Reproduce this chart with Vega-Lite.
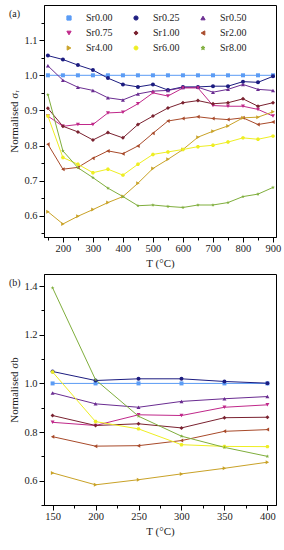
{
  "$schema": "https://vega.github.io/schema/vega-lite/v6.json",
  "padding": {"left": 8, "top": 4, "right": 2, "bottom": 4},
  "config": {
    "view": {"stroke": "black", "strokeWidth": 1},
    "font": "Liberation Serif",
    "axis": {"labelFont": "Liberation Serif", "labelFontSize": 10.5, "labelColor": "#222", "titleFont": "Liberation Serif", "titleFontSize": 11, "titleFontWeight": "normal", "titleColor": "#222", "domainColor": "black", "tickColor": "black", "grid": false},
    "legend": {"labelFont": "Liberation Serif", "labelFontSize": 10, "labelColor": "#222"},
    "title": {"font": "Liberation Serif", "fontSize": 10, "fontWeight": "normal", "color": "#222"}
  },
  "datasets": {
    "a": [
      {"s":"Sr0.00","T":150,"v":1.0},{"s":"Sr0.00","T":200,"v":1.0},{"s":"Sr0.00","T":250,"v":1.0},{"s":"Sr0.00","T":300,"v":1.0},{"s":"Sr0.00","T":350,"v":1.0},{"s":"Sr0.00","T":400,"v":1.0},{"s":"Sr0.00","T":450,"v":1.0},{"s":"Sr0.00","T":500,"v":1.0},{"s":"Sr0.00","T":550,"v":1.0},{"s":"Sr0.00","T":600,"v":1.0},{"s":"Sr0.00","T":650,"v":1.0},{"s":"Sr0.00","T":700,"v":1.0},{"s":"Sr0.00","T":750,"v":1.0},{"s":"Sr0.00","T":800,"v":1.0},{"s":"Sr0.00","T":850,"v":1.0},{"s":"Sr0.00","T":900,"v":1.0},
      {"s":"Sr0.25","T":150,"v":1.056},{"s":"Sr0.25","T":200,"v":1.045},{"s":"Sr0.25","T":250,"v":1.029},{"s":"Sr0.25","T":300,"v":1.015},{"s":"Sr0.25","T":350,"v":0.992},{"s":"Sr0.25","T":400,"v":0.974},{"s":"Sr0.25","T":450,"v":0.967},{"s":"Sr0.25","T":500,"v":0.974},{"s":"Sr0.25","T":550,"v":0.958},{"s":"Sr0.25","T":600,"v":0.967},{"s":"Sr0.25","T":650,"v":0.967},{"s":"Sr0.25","T":700,"v":0.969},{"s":"Sr0.25","T":750,"v":0.969},{"s":"Sr0.25","T":800,"v":0.982},{"s":"Sr0.25","T":850,"v":0.98},{"s":"Sr0.25","T":900,"v":0.997},
      {"s":"Sr0.50","T":150,"v":1.027},{"s":"Sr0.50","T":200,"v":0.986},{"s":"Sr0.50","T":250,"v":0.966},{"s":"Sr0.50","T":300,"v":0.957},{"s":"Sr0.50","T":350,"v":0.936},{"s":"Sr0.50","T":400,"v":0.93},{"s":"Sr0.50","T":450,"v":0.947},{"s":"Sr0.50","T":500,"v":0.955},{"s":"Sr0.50","T":550,"v":0.957},{"s":"Sr0.50","T":600,"v":0.965},{"s":"Sr0.50","T":650,"v":0.966},{"s":"Sr0.50","T":700,"v":0.952},{"s":"Sr0.50","T":750,"v":0.96},{"s":"Sr0.50","T":800,"v":0.974},{"s":"Sr0.50","T":850,"v":0.96},{"s":"Sr0.50","T":900,"v":0.957},
      {"s":"Sr0.75","T":150,"v":0.884},{"s":"Sr0.75","T":200,"v":0.855},{"s":"Sr0.75","T":250,"v":0.86},{"s":"Sr0.75","T":300,"v":0.86},{"s":"Sr0.75","T":350,"v":0.893},{"s":"Sr0.75","T":400,"v":0.895},{"s":"Sr0.75","T":450,"v":0.919},{"s":"Sr0.75","T":500,"v":0.95},{"s":"Sr0.75","T":550,"v":0.941},{"s":"Sr0.75","T":600,"v":0.964},{"s":"Sr0.75","T":650,"v":0.964},{"s":"Sr0.75","T":700,"v":0.914},{"s":"Sr0.75","T":750,"v":0.912},{"s":"Sr0.75","T":800,"v":0.912},{"s":"Sr0.75","T":850,"v":0.903},{"s":"Sr0.75","T":900,"v":0.884},
      {"s":"Sr1.00","T":150,"v":0.906},{"s":"Sr1.00","T":200,"v":0.855},{"s":"Sr1.00","T":250,"v":0.839},{"s":"Sr1.00","T":300,"v":0.816},{"s":"Sr1.00","T":350,"v":0.837},{"s":"Sr1.00","T":400,"v":0.822},{"s":"Sr1.00","T":450,"v":0.86},{"s":"Sr1.00","T":500,"v":0.884},{"s":"Sr1.00","T":550,"v":0.907},{"s":"Sr1.00","T":600,"v":0.922},{"s":"Sr1.00","T":650,"v":0.928},{"s":"Sr1.00","T":700,"v":0.919},{"s":"Sr1.00","T":750,"v":0.922},{"s":"Sr1.00","T":800,"v":0.933},{"s":"Sr1.00","T":850,"v":0.912},{"s":"Sr1.00","T":900,"v":0.922},
      {"s":"Sr2.00","T":150,"v":0.804},{"s":"Sr2.00","T":200,"v":0.733},{"s":"Sr2.00","T":250,"v":0.738},{"s":"Sr2.00","T":300,"v":0.764},{"s":"Sr2.00","T":350,"v":0.785},{"s":"Sr2.00","T":400,"v":0.777},{"s":"Sr2.00","T":450,"v":0.799},{"s":"Sr2.00","T":500,"v":0.835},{"s":"Sr2.00","T":550,"v":0.87},{"s":"Sr2.00","T":600,"v":0.877},{"s":"Sr2.00","T":650,"v":0.882},{"s":"Sr2.00","T":700,"v":0.877},{"s":"Sr2.00","T":750,"v":0.874},{"s":"Sr2.00","T":800,"v":0.879},{"s":"Sr2.00","T":850,"v":0.86},{"s":"Sr2.00","T":900,"v":0.867},
      {"s":"Sr4.00","T":150,"v":0.612},{"s":"Sr4.00","T":200,"v":0.577},{"s":"Sr4.00","T":250,"v":0.599},{"s":"Sr4.00","T":300,"v":0.618},{"s":"Sr4.00","T":350,"v":0.638},{"s":"Sr4.00","T":400,"v":0.655},{"s":"Sr4.00","T":450,"v":0.693},{"s":"Sr4.00","T":500,"v":0.735},{"s":"Sr4.00","T":550,"v":0.761},{"s":"Sr4.00","T":600,"v":0.789},{"s":"Sr4.00","T":650,"v":0.824},{"s":"Sr4.00","T":700,"v":0.841},{"s":"Sr4.00","T":750,"v":0.856},{"s":"Sr4.00","T":800,"v":0.879},{"s":"Sr4.00","T":850,"v":0.881},{"s":"Sr4.00","T":900,"v":0.896},
      {"s":"Sr6.00","T":150,"v":0.884},{"s":"Sr6.00","T":200,"v":0.766},{"s":"Sr6.00","T":250,"v":0.747},{"s":"Sr6.00","T":300,"v":0.723},{"s":"Sr6.00","T":350,"v":0.733},{"s":"Sr6.00","T":400,"v":0.716},{"s":"Sr6.00","T":450,"v":0.747},{"s":"Sr6.00","T":500,"v":0.775},{"s":"Sr6.00","T":550,"v":0.782},{"s":"Sr6.00","T":600,"v":0.789},{"s":"Sr6.00","T":650,"v":0.797},{"s":"Sr6.00","T":700,"v":0.801},{"s":"Sr6.00","T":750,"v":0.81},{"s":"Sr6.00","T":800,"v":0.822},{"s":"Sr6.00","T":850,"v":0.818},{"s":"Sr6.00","T":900,"v":0.827},
      {"s":"Sr8.00","T":150,"v":0.945},{"s":"Sr8.00","T":200,"v":0.785},{"s":"Sr8.00","T":250,"v":0.737},{"s":"Sr8.00","T":300,"v":0.709},{"s":"Sr8.00","T":350,"v":0.679},{"s":"Sr8.00","T":400,"v":0.655},{"s":"Sr8.00","T":450,"v":0.629},{"s":"Sr8.00","T":500,"v":0.631},{"s":"Sr8.00","T":550,"v":0.627},{"s":"Sr8.00","T":600,"v":0.624},{"s":"Sr8.00","T":650,"v":0.631},{"s":"Sr8.00","T":700,"v":0.631},{"s":"Sr8.00","T":750,"v":0.638},{"s":"Sr8.00","T":800,"v":0.655},{"s":"Sr8.00","T":850,"v":0.662},{"s":"Sr8.00","T":900,"v":0.681}
    ],
    "b": [
      {"s":"Sr0.00","T":150,"v":1.0},{"s":"Sr0.00","T":200,"v":1.0},{"s":"Sr0.00","T":250,"v":1.0},{"s":"Sr0.00","T":300,"v":1.0},{"s":"Sr0.00","T":350,"v":1.0},{"s":"Sr0.00","T":400,"v":1.0},
      {"s":"Sr0.25","T":150,"v":1.049},{"s":"Sr0.25","T":200,"v":1.012},{"s":"Sr0.25","T":250,"v":1.019},{"s":"Sr0.25","T":300,"v":1.019},{"s":"Sr0.25","T":350,"v":1.008},{"s":"Sr0.25","T":400,"v":1.001},
      {"s":"Sr0.50","T":150,"v":0.961},{"s":"Sr0.50","T":200,"v":0.916},{"s":"Sr0.50","T":250,"v":0.902},{"s":"Sr0.50","T":300,"v":0.926},{"s":"Sr0.50","T":350,"v":0.937},{"s":"Sr0.50","T":400,"v":0.946},
      {"s":"Sr0.75","T":150,"v":0.84},{"s":"Sr0.75","T":200,"v":0.827},{"s":"Sr0.75","T":250,"v":0.871},{"s":"Sr0.75","T":300,"v":0.868},{"s":"Sr0.75","T":350,"v":0.902},{"s":"Sr0.75","T":400,"v":0.912},
      {"s":"Sr1.00","T":150,"v":0.868},{"s":"Sr1.00","T":200,"v":0.827},{"s":"Sr1.00","T":250,"v":0.834},{"s":"Sr1.00","T":300,"v":0.817},{"s":"Sr1.00","T":350,"v":0.859},{"s":"Sr1.00","T":400,"v":0.861},
      {"s":"Sr2.00","T":150,"v":0.781},{"s":"Sr2.00","T":200,"v":0.742},{"s":"Sr2.00","T":250,"v":0.744},{"s":"Sr2.00","T":300,"v":0.765},{"s":"Sr2.00","T":350,"v":0.803},{"s":"Sr2.00","T":400,"v":0.81},
      {"s":"Sr4.00","T":150,"v":0.632},{"s":"Sr4.00","T":200,"v":0.583},{"s":"Sr4.00","T":250,"v":0.604},{"s":"Sr4.00","T":300,"v":0.628},{"s":"Sr4.00","T":350,"v":0.651},{"s":"Sr4.00","T":400,"v":0.676},
      {"s":"Sr6.00","T":150,"v":1.047},{"s":"Sr6.00","T":200,"v":0.843},{"s":"Sr6.00","T":250,"v":0.813},{"s":"Sr6.00","T":300,"v":0.748},{"s":"Sr6.00","T":350,"v":0.741},{"s":"Sr6.00","T":400,"v":0.74},
      {"s":"Sr8.00","T":150,"v":1.393},{"s":"Sr8.00","T":200,"v":1.015},{"s":"Sr8.00","T":250,"v":0.865},{"s":"Sr8.00","T":300,"v":0.783},{"s":"Sr8.00","T":350,"v":0.737},{"s":"Sr8.00","T":400,"v":0.7}
    ]
  },
  "spacing": 4,
  "resolve": {"legend": {"color": "independent", "shape": "independent"}},
  "vconcat": [
    {
      "width": 232,
      "height": 232,
      "title": {"text": "(a)", "anchor": "start", "frame": "bounds", "dy": 14, "offset": 0},
      "data": {"name": "a"},
      "encoding": {
        "x": {"field": "T", "type": "quantitative", "scale": {"domain": [137, 910], "nice": false, "zero": false},
          "axis": {"title": "T (°C)", "values": [150,200,250,300,350,400,450,500,550,600,650,700,750,800,850,900], "labelExpr": "datum.value % 100 === 0 ? datum.label : ''", "tickSize": {"condition": {"test": "datum.value % 100 === 0", "value": 5}, "value": 3}, "labelPadding": 1, "titlePadding": 4}},
        "y": {"field": "v", "type": "quantitative", "scale": {"domain": [0.54, 1.2], "nice": false, "zero": false},
          "axis": {"title": "Normalised σᵣ", "values": [0.55,0.6,0.65,0.7,0.75,0.8,0.85,0.9,0.95,1.0,1.05,1.1,1.15], "labelExpr": "round(datum.value*100) % 10 === 0 ? format(datum.value, '.1f') : ''", "tickSize": {"condition": {"test": "round(datum.value*100) % 10 === 0", "value": 5}, "value": 3}, "labelPadding": 2, "titlePadding": 4}},
        "color": {"field": "s", "type": "nominal",
          "scale": {"domain": ["Sr0.00","Sr0.75","Sr4.00","Sr0.25","Sr1.00","Sr6.00","Sr0.50","Sr2.00","Sr8.00"], "range": ["#5b9cf5","#c0288a","#c9a227","#1c1c80","#7a2230","#eeee22","#6a2c91","#a84a2a","#7fae3c"]},
          "legend": {"title": null, "orient": "none", "legendX": 20, "legendY": 8, "columns": 3, "columnPadding": 18, "rowPadding": 5, "labelOffset": 12, "symbolSize": 18, "symbolStrokeWidth": 1}}
      },
      "layer": [
        {"mark": {"type": "line", "strokeWidth": 1}},
        {"mark": {"type": "point", "filled": true, "size": 16, "opacity": 1},
          "encoding": {"shape": {"field": "s", "type": "nominal",
            "scale": {"domain": ["Sr0.00","Sr0.75","Sr4.00","Sr0.25","Sr1.00","Sr6.00","Sr0.50","Sr2.00","Sr8.00"], "range": ["square","triangle-down","triangle-right","circle","diamond","M-1,0L-0.5,-0.866L0.5,-0.866L1,0L0.5,0.866L-0.5,0.866Z","triangle-up","triangle-left","M0,-1L0.2245,-0.309L0.951,-0.309L0.363,0.118L0.588,0.809L0,0.382L-0.588,0.809L-0.363,0.118L-0.951,-0.309L-0.2245,-0.309Z"]},
            "legend": {"title": null, "orient": "none", "legendX": 20, "legendY": 8, "columns": 3, "columnPadding": 18, "rowPadding": 5, "labelOffset": 12, "symbolSize": 18, "symbolStrokeWidth": 1}}}}
      ]
    },
    {
      "width": 232,
      "height": 231,
      "title": {"text": "(b)", "anchor": "start", "frame": "bounds", "dy": 14, "offset": 0},
      "data": {"name": "b"},
      "encoding": {
        "x": {"field": "T", "type": "quantitative", "scale": {"domain": [140, 410], "nice": false, "zero": false},
          "axis": {"title": "T (°C)", "values": [150,175,200,225,250,275,300,325,350,375,400], "labelExpr": "datum.value % 50 === 0 ? datum.label : ''", "tickSize": {"condition": {"test": "datum.value % 50 === 0", "value": 5}, "value": 3}, "labelPadding": 1, "titlePadding": 4}},
        "y": {"field": "v", "type": "quantitative", "scale": {"domain": [0.5, 1.45], "nice": false, "zero": false},
          "axis": {"title": "Normalised σb", "values": [0.5,0.6,0.7,0.8,0.9,1.0,1.1,1.2,1.3,1.4], "labelExpr": "round(datum.value*10) % 2 === 0 ? format(datum.value, '.1f') : ''", "tickSize": {"condition": {"test": "round(datum.value*10) % 2 === 0", "value": 5}, "value": 3}, "labelPadding": 2, "titlePadding": 4}},
        "color": {"field": "s", "type": "nominal", "legend": null}
      },
      "layer": [
        {"mark": {"type": "line", "strokeWidth": 1}},
        {"mark": {"type": "point", "filled": true, "size": 16, "opacity": 1},
          "encoding": {"shape": {"field": "s", "type": "nominal", "legend": null}}}
      ]
    }
  ]
}
